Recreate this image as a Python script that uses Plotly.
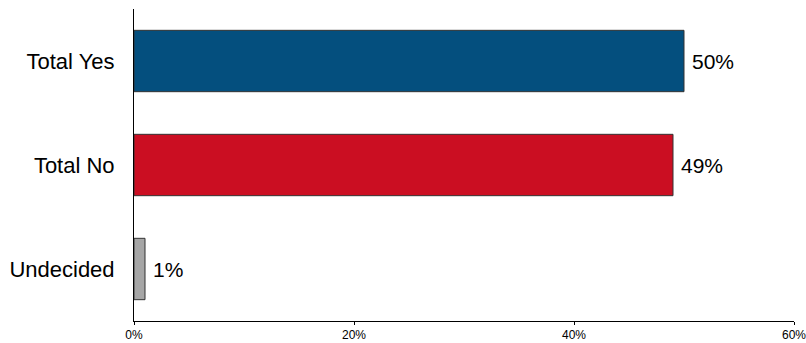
import plotly.graph_objects as go

categories = ["Total Yes", "Total No", "Undecided"]
values = [50, 49, 1]
labels = ["50%", "49%", "1%"]
colors = ["#044F7E", "#CB0E22", "#A6A6A6"]
x_ticks = [0, 20, 40, 60]
x_tick_labels = ["0%", "20%", "40%", "60%"]

FONT = "Liberation Sans, Arial, sans-serif"

fig = go.Figure(go.Bar(
    y=categories, x=values, orientation="h",
    marker=dict(color=colors, line=dict(color="#333333", width=1)),
    width=0.59,
    hoverinfo="skip",
))

annotations = [
    dict(x=v, y=c, text=t, xref="x", yref="y", xanchor="left", yanchor="middle",
         xshift=6, showarrow=False,
         font=dict(family=FONT, size=21, color="#000000"))
    for c, v, t in zip(categories, values, labels)
]

fig.update_layout(
    width=806, height=343,
    margin=dict(l=134, r=12, t=9, b=22),
    paper_bgcolor="white", plot_bgcolor="white",
    showlegend=False,
    font=dict(family=FONT, color="#000000"),
    annotations=annotations,
    xaxis=dict(range=[0, 60], tickvals=x_ticks, ticktext=x_tick_labels, automargin=False,
               ticklabeloverflow="allow",
               showgrid=False, zeroline=False, showline=True, linecolor="#000000", linewidth=1,
               ticks="outside", ticklen=3, tickcolor="#000000", tickfont=dict(size=12)),
    yaxis=dict(categoryorder="array", categoryarray=categories, range=[2.5, -0.5], automargin=False,
               showgrid=False, zeroline=False, showline=True, linecolor="#000000", linewidth=1,
               ticks="", ticklabelstandoff=14, tickfont=dict(size=22)),
)

fig.write_html("out.html")
